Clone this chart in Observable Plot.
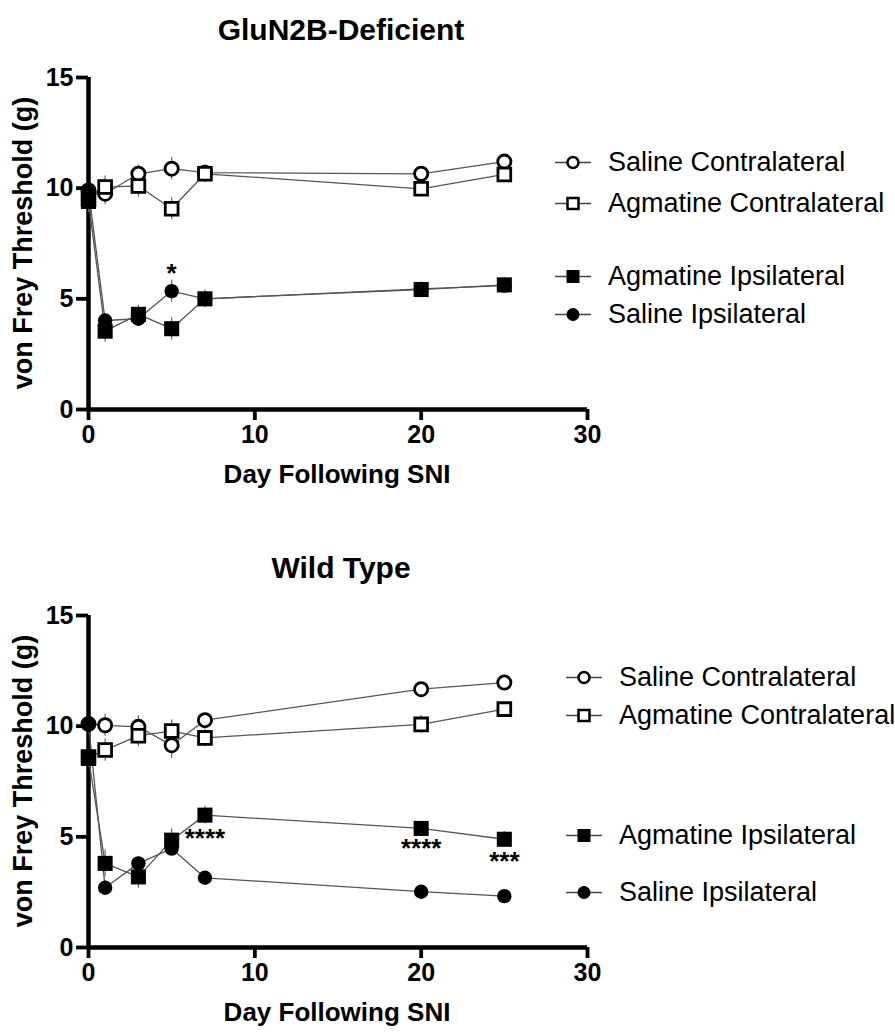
<!DOCTYPE html>
<html><head><meta charset="utf-8">
<script src="https://cdn.jsdelivr.net/npm/d3@7"></script>
<script src="https://cdn.jsdelivr.net/npm/@observablehq/plot@0.6"></script>
<style>
body{margin:0;background:#fff;font-family:"Liberation Sans",Arial,Helvetica,sans-serif;color:#000;}
#root{position:relative;width:895px;height:1032px;overflow:hidden;}
.abs{position:absolute;white-space:nowrap;}
.title{font-weight:bold;font-size:30px;transform:translate(-50%,-50%);}
.xlab{font-weight:bold;font-size:26px;transform:translate(-50%,-50%);}
.ylab{font-weight:bold;font-size:27px;transform:translate(-50%,-50%) rotate(-90deg);}
.leg{display:flex;align-items:center;transform:translateY(-50%);font-size:27px;}
.leg svg{overflow:visible;margin-right:17px;}
svg.plot{position:absolute;left:0;}
</style></head><body><div id="root"></div>
<script>
const days = [0, 1, 3, 5, 7, 20, 25];
const seriesNames = ["Saline Contralateral", "Agmatine Contralateral", "Agmatine Ipsilateral", "Saline Ipsilateral"];
const seriesSymbols = ["circle", "square", "square", "circle"];
const seriesFilled = [false, false, true, true];
const xTicks = [0, 10, 20, 30];
const yTicks = [0, 5, 10, 15];

// GluN2B-Deficient
const titleTop = "GluN2B-Deficient";
const topSalineContra    = [9.9, 9.75, 10.65, 10.88, 10.7, 10.65, 11.2];
const topSalineContraErr = [0.3, 0.5, 0.4, 0.5, 0.3, 0.3, 0.3];
const topAgmContra       = [9.5, 10.05, 10.1, 9.07, 10.65, 9.97, 10.62];
const topAgmContraErr    = [0.3, 0.5, 0.5, 0.5, 0.4, 0.3, 0.3];
const topAgmIpsi         = [9.4, 3.54, 4.3, 3.65, 5.0, 5.42, 5.63];
const topAgmIpsiErr      = [0.5, 0.5, 0.4, 0.5, 0.4, 0.3, 0.35];
const topSalIpsi         = [9.9, 4.02, 4.1, 5.35, 5.0, 5.45, 5.6];
const topSalIpsiErr      = [0.3, 0.2, 0.3, 0.5, 0.3, 0.3, 0.3];
const topStarDays   = [5];
const topStarValues = [6.3];
const topStarLabels = ["*"];

// Wild Type
const titleBottom = "Wild Type";
const botSalineContra    = [10.1, 10.04, 9.97, 9.14, 10.27, 11.67, 11.97];
const botSalineContraErr = [0.3, 0.5, 0.5, 0.6, 0.3, 0.3, 0.2];
const botAgmContra       = [8.6, 8.92, 9.57, 9.78, 9.47, 10.08, 10.77];
const botAgmContraErr    = [0.3, 0.5, 0.5, 0.5, 0.4, 0.4, 0.2];
const botAgmIpsi         = [8.54, 3.8, 3.19, 4.85, 5.98, 5.38, 4.89];
const botAgmIpsiErr      = [0.4, 0.6, 0.5, 0.5, 0.4, 0.2, 0.35];
const botSalIpsi         = [10.1, 2.7, 3.8, 4.47, 3.15, 2.52, 2.32];
const botSalIpsiErr      = [0.2, 0.3, 0.3, 0.3, 0.2, 0.2, 0.2];
const botStarDays   = [7, 20, 25];
const botStarValues = [5.1, 4.65, 4.05];
const botStarLabels = ["****", "****", "***"];

const xLabel = "Day Following SNI";
const yLabel = "von Frey Threshold (g)";

const root = document.getElementById("root");
const FONT = '"Liberation Sans", Arial, Helvetica, sans-serif';

function addDiv(cls, text, left, top) {
  const d = document.createElement("div");
  d.className = "abs " + cls;
  d.textContent = text;
  d.style.left = left + "px";
  d.style.top = top + "px";
  root.appendChild(d);
  return d;
}

function legendSymbol(sym, filled) {
  const ns = "http://www.w3.org/2000/svg";
  const s = document.createElementNS(ns, "svg");
  s.setAttribute("width", 36); s.setAttribute("height", 20);
  const l = document.createElementNS(ns, "line");
  l.setAttribute("x1", 0); l.setAttribute("x2", 36); l.setAttribute("y1", 10); l.setAttribute("y2", 10);
  l.setAttribute("stroke", "#444"); l.setAttribute("stroke-width", 1.3);
  s.appendChild(l);
  let m;
  if (sym === "circle") {
    m = document.createElementNS(ns, "circle");
    m.setAttribute("cx", 18); m.setAttribute("cy", 10); m.setAttribute("r", filled ? 6.5 : 5.5);
  } else {
    m = document.createElementNS(ns, "rect");
    const sz = filled ? 13 : 11;
    m.setAttribute("x", 18 - sz/2); m.setAttribute("y", 10 - sz/2); m.setAttribute("width", sz); m.setAttribute("height", sz);
  }
  m.setAttribute("fill", filled ? "#000" : "#fff");
  if (!filled) { m.setAttribute("stroke", "#000"); m.setAttribute("stroke-width", 2.5); }
  s.appendChild(m);
  return s;
}

function panel(cfg) {
  const values = cfg.values, errs = cfg.errs;
  const marks = [];
  marks.push(Plot.ruleX([{x: 0, y1: 0, y2: 15}], {x: "x", y1: "y1", y2: "y2", strokeWidth: 4.5, stroke: "#000"}));
  marks.push(Plot.ruleY([{y: 0, x1: 0, x2: 30}], {y: "y", x1: "x1", x2: "x2", strokeWidth: 4.5, stroke: "#000"}));
  seriesNames.forEach((name, i) => {
    const rows = days.map((d, j) => ({day: d, value: values[i][j], lo: values[i][j] - errs[i][j], hi: values[i][j] + errs[i][j]}));
    marks.push(Plot.line(rows, {x: "day", y: "value", stroke: "#555", strokeWidth: 1.3}));
    marks.push(Plot.ruleX(rows, {x: "day", y1: "lo", y2: "hi", stroke: "#666", strokeWidth: 1.2}));
  });
  seriesNames.forEach((name, i) => {
    const rows = days.map((d, j) => ({day: d, value: values[i][j]}));
    const sym = seriesSymbols[i], filled = seriesFilled[i];
    const r = sym === "square" ? (filled ? 8.5 : 7.2) : (filled ? 7.2 : 6.6);
    marks.push(Plot.dot(rows, {x: "day", y: "value", symbol: sym, r,
      fill: filled ? "#000" : "#fff", stroke: "#000", strokeWidth: filled ? 0 : 2.8}));
  });
  const stars = cfg.starDays.map((d, k) => ({day: d, value: cfg.starValues[k], label: cfg.starLabels[k]}));
  marks.push(Plot.text(stars, {x: "day", y: "value", text: "label", fontSize: 26, fontWeight: "bold", dy: 4, fontFamily: FONT}));
  marks.push(Plot.axisY({ticks: yTicks, tickSize: 12, tickPadding: 3, strokeWidth: 3.8, fontSize: 25, fontWeight: "bold", label: null, fontFamily: FONT}));
  marks.push(Plot.axisX({ticks: xTicks, tickSize: 11, tickPadding: 5, strokeWidth: 3.8, fontSize: 25, fontWeight: "bold", label: null, fontFamily: FONT}));

  const svg = Plot.plot({
    width: 895, height: 500,
    marginLeft: 88, marginRight: 308, marginTop: 77, marginBottom: 91,
    x: {domain: [0, 30]},
    y: {domain: [0, 15]},
    style: {fontFamily: FONT, background: "transparent", color: "#000", overflow: "visible"},
    marks
  });
  svg.classList.add("plot");
  svg.style.top = cfg.offset + "px";
  root.appendChild(svg);

  addDiv("title", cfg.title, 341, cfg.offset + 30);
  addDiv("xlab", xLabel, 337, cfg.offset + 474);
  addDiv("ylab", yLabel, 23, cfg.offset + 243);

  seriesNames.forEach((name, i) => {
    const d = document.createElement("div");
    d.className = "abs leg";
    d.style.left = cfg.legendX + "px";
    d.style.top = cfg.legendY[i] + "px";
    d.appendChild(legendSymbol(seriesSymbols[i], seriesFilled[i]));
    const t = document.createElement("span");
    t.textContent = name;
    d.appendChild(t);
    root.appendChild(d);
  });
}

panel({title: titleTop, offset: 0,
  values: [topSalineContra, topAgmContra, topAgmIpsi, topSalIpsi],
  errs: [topSalineContraErr, topAgmContraErr, topAgmIpsiErr, topSalIpsiErr],
  starDays: topStarDays, starValues: topStarValues, starLabels: topStarLabels,
  legendX: 555, legendY: [162, 203, 276, 314]});

panel({title: titleBottom, offset: 538,
  values: [botSalineContra, botAgmContra, botAgmIpsi, botSalIpsi],
  errs: [botSalineContraErr, botAgmContraErr, botAgmIpsiErr, botSalIpsiErr],
  starDays: botStarDays, starValues: botStarValues, starLabels: botStarLabels,
  legendX: 566, legendY: [677, 715, 835, 892]});
</script>
</body></html>
